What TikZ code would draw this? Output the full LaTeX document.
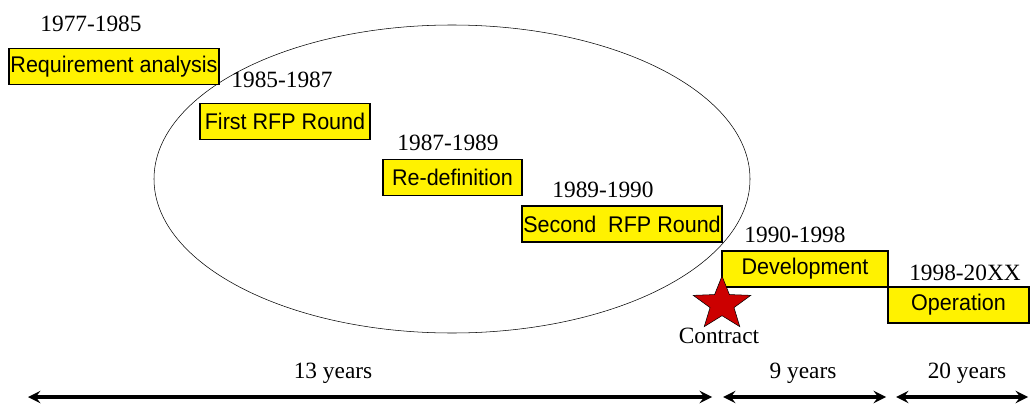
\documentclass[tikz,border=0pt]{standalone}
\usepackage{graphicx}
\usepackage{fontspec}
\setmainfont{Liberation Serif}
\newfontfamily\labelfont{Liberation Sans}
\usetikzlibrary{shapes.geometric, arrows}
\newcommand{\slim}[1]{\scalebox{0.95}[1]{#1}}
\tikzstyle{phase} = [rectangle, minimum height=27.5pt, inner sep=0pt, text centered, draw=black, thick, fill=yellow, font=\labelfont\fontsize{17}{20}\selectfont]
\tikzstyle{years} = [inner sep=0pt, font=\fontsize{17.5}{20}\selectfont]
\tikzstyle{span} = [line width=3pt, <->, >=stealth]

\begin{document}
\begin{tikzpicture}[x=0.75pt, y=-0.75pt]
	\useasboundingbox (0,0) rectangle (1030,403);

	\node (loop) [ellipse, draw=black, minimum width=447pt, minimum height=231pt, inner sep=0pt] at (452,179) {};

	\node (t1) [years] at (91,24) {1977-1985};
	\node (req) [phase, minimum width=157.5pt] at (114,66.5) {\slim{Requirement analysis}};
	\node (t2) [years] at (282,80) {1985-1987};
	\node (rfp1) [phase, minimum width=127.5pt] at (285,121.5) {\slim{First RFP Round}};
	\node (t3) [years] at (448,143) {1987-1989};
	\node (redef) [phase, minimum width=104.25pt] at (452.5,177.5) {\slim{Re-definition}};
	\node (t4) [years] at (603,190) {1989-1990};
	\node (rfp2) [phase, minimum width=150pt, minimum height=27pt] at (622,224) {\slim{Second\ \ RFP Round}};
	\node (t5) [years] at (795,235) {1990-1998};
	\node (dev) [phase, minimum width=124.5pt, minimum height=27pt] at (805,269) {\slim{Development}};
	\node (t6) [years] at (965,273) {1998-20XX};
	\node (ops) [phase, minimum width=105.75pt, minimum height=27pt] at (958.5,305) {\slim{Operation}};

	\node (contract) [star, star points=5, star point ratio=2.4, minimum size=42pt, inner sep=0pt, draw=black, fill=red!80!black, xscale=1.08, transform shape] at (722,304) {};
	\node (contractlabel) [years] at (719,336) {Contract};

	\coordinate (s1a) at (28,397);
	\coordinate (s1b) at (712,397);
	\coordinate (s2a) at (723,397);
	\coordinate (s2b) at (886,397);
	\coordinate (s3a) at (896,397);
	\coordinate (s3b) at (1028,397);
	\draw [span] (s1a) -- (s1b);
	\draw [span] (s2a) -- (s2b);
	\draw [span] (s3a) -- (s3b);
	\node (d1) [years] at (333,373) {13 years};
	\node (d2) [years] at (803,373) {9 years};
	\node (d3) [years] at (967,373) {20 years};
\end{tikzpicture}
\end{document}
